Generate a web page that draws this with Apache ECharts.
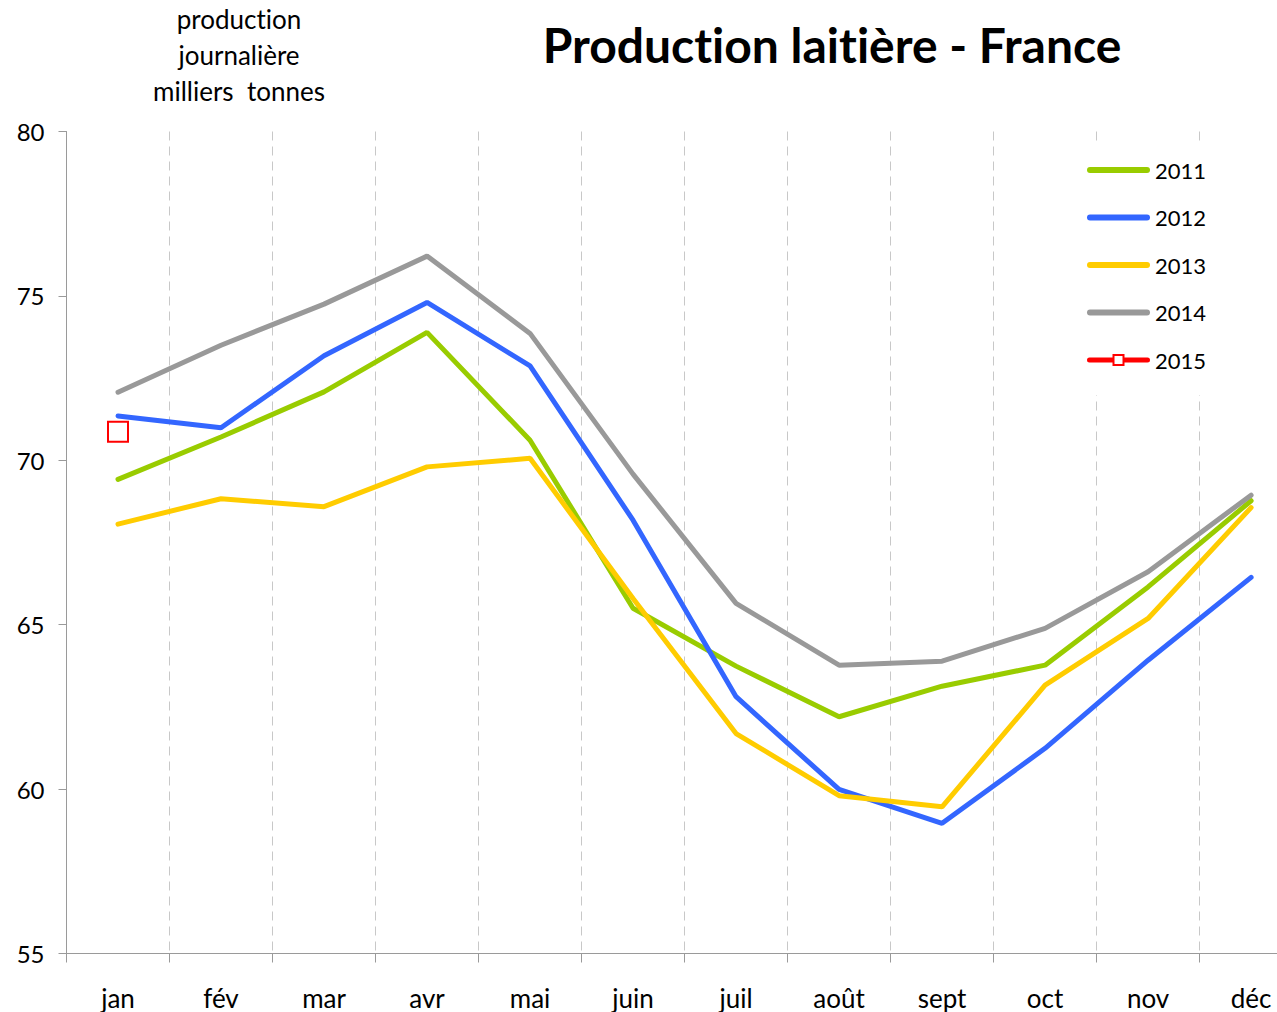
<!DOCTYPE html>
<html>
<head>
<meta charset="utf-8">
<title>Production laitière - France</title>
<script src="https://cdn.jsdelivr.net/npm/echarts@6/dist/echarts.min.js"></script>
<style>
  html, body { margin: 0; padding: 0; background: #fff; }
  #chart { width: 1277px; height: 1012px; }
  #chart svg text { font-variant-ligatures: none !important; font-feature-settings: "liga" 0, "clig" 0 !important; }
</style>
</head>
<body>
<div id="chart"></div>
<script>
// Mois de l'année (axe des catégories)
const months = ['jan', 'fév', 'mar', 'avr', 'mai', 'juin', 'juil', 'août', 'sept', 'oct', 'nov', 'déc'];

// Production journalière, milliers de tonnes
const v2011 = [69.42, 70.71, 72.08, 73.89, 70.61, 65.50, 63.74, 62.20, 63.13, 63.77, 66.15, 68.77];
const v2012 = [71.35, 70.99, 73.18, 74.80, 72.87, 68.18, 62.81, 59.99, 58.96, 61.24, 63.92, 66.44];
const v2013 = [68.06, 68.83, 68.59, 69.80, 70.06, 65.80, 61.69, 59.80, 59.46, 63.16, 65.19, 68.56];
const v2014 = [72.07, 73.50, 74.75, 76.21, 73.86, 69.58, 65.65, 63.77, 63.89, 64.89, 66.61, 68.94];
const v2015 = [70.87];

// Graduations de l'axe vertical
const yMin = 55, yMax = 80, yStep = 5;

const FONT = 'Lato, "Open Sans", sans-serif';

// Icônes de légende : trait épais arrondi, et trait avec carré vide pour 2015
const ICON_LINE = 'path://M3,0 L60,0 A3,3 0 0 1 60,6 L3,6 A3,3 0 0 1 3,0 Z';
const ICON_LINE_SQUARE = 'path://M2.5,3.5 L25.5,3.5 L25.5,0 L37.5,0 L37.5,3.5 L60.5,3.5 ' +
  'A2.5,2.5 0 0 1 60.5,8.5 L37.5,8.5 L37.5,12 L25.5,12 L25.5,8.5 L2.5,8.5 A2.5,2.5 0 0 1 2.5,3.5 Z ' +
  'M27.5,2 L27.5,10 L35.5,10 L35.5,2 Z';

const chart = echarts.init(document.getElementById('chart'), null, { renderer: 'svg' });

function lineSeries(name, data, color) {
  return {
    name: name,
    type: 'line',
    data: data,
    symbol: 'none',
    color: color,
    lineStyle: { color: color, width: 5, cap: 'round' },
    itemStyle: { color: color },
    emphasis: { disabled: true }
  };
}

chart.setOption({
  animation: false,
  backgroundColor: '#fff',
  textStyle: { fontFamily: FONT },
  graphic: [
    {
      type: 'text',
      x: 832,
      y: 44,
      style: {
        text: 'Production laitière - France',
        font: 'bold 48px ' + FONT,
        fill: '#000',
        align: 'center',
        verticalAlign: 'middle'
      }
    },
    {
      type: 'text',
      x: 239,
      y: 1,
      style: {
        text: 'production\njournalière\nmilliers  tonnes',
        font: '26px ' + FONT,
        lineHeight: 36,
        fill: '#000',
        align: 'center',
        verticalAlign: 'top'
      }
    }
  ],
  legend: {
    orient: 'vertical',
    left: 1080,
    top: 146,
    padding: [13, 40, 24, 7],
    backgroundColor: '#fff',
    itemWidth: 63,
    itemHeight: 12,
    itemGap: 25.5,
    selectedMode: false,
    textStyle: { fontFamily: FONT, fontSize: 22, color: '#000', lineHeight: 12, padding: [6, 0, 0, 0] },
    data: [
      { name: '2011', icon: ICON_LINE },
      { name: '2012', icon: ICON_LINE },
      { name: '2013', icon: ICON_LINE },
      { name: '2014', icon: ICON_LINE },
      { name: '2015', icon: ICON_LINE_SQUARE, itemStyle: { color: '#ff0000', borderWidth: 0 } }
    ]
  },
  grid: {
    left: 66.5,
    top: 131.5,
    right: -25.6,
    height: 822,
    containLabel: false,
    outerBoundsMode: 'none'
  },
  xAxis: {
    type: 'category',
    data: months,
    boundaryGap: true,
    axisLine: { show: true, lineStyle: { color: '#9a9a9a', width: 1 } },
    axisTick: { show: true, length: 9, interval: 0, alignWithLabel: false, lineStyle: { color: '#9a9a9a' } },
    axisLabel: { interval: 0, margin: 31, fontSize: 26, color: '#000', fontFamily: FONT },
    splitLine: { show: true, interval: 0, lineStyle: { color: '#c8c8c8', width: 1, type: [9, 6] } }
  },
  yAxis: {
    type: 'value',
    min: yMin,
    max: yMax,
    interval: yStep,
    axisLine: { show: true, lineStyle: { color: '#9a9a9a', width: 1 } },
    axisTick: { show: true, length: 8, lineStyle: { color: '#9a9a9a' } },
    axisLabel: { margin: 22, fontSize: 24, color: '#000', fontFamily: FONT },
    splitLine: { show: false }
  },
  series: [
    lineSeries('2011', v2011, '#99cc00'),
    lineSeries('2012', v2012, '#3366ff'),
    lineSeries('2013', v2013, '#ffcc00'),
    lineSeries('2014', v2014, '#999999'),
    {
      name: '2015',
      type: 'line',
      data: v2015,
      symbol: 'rect',
      symbolSize: 20,
      showSymbol: true,
      color: '#ff0000',
      lineStyle: { color: '#ff0000', width: 5, cap: 'round' },
      itemStyle: { color: '#ffffff', borderColor: '#ff0000', borderWidth: 2 },
      emphasis: { disabled: true },
      z: 5
    }
  ]
});
</script>
</body>
</html>
